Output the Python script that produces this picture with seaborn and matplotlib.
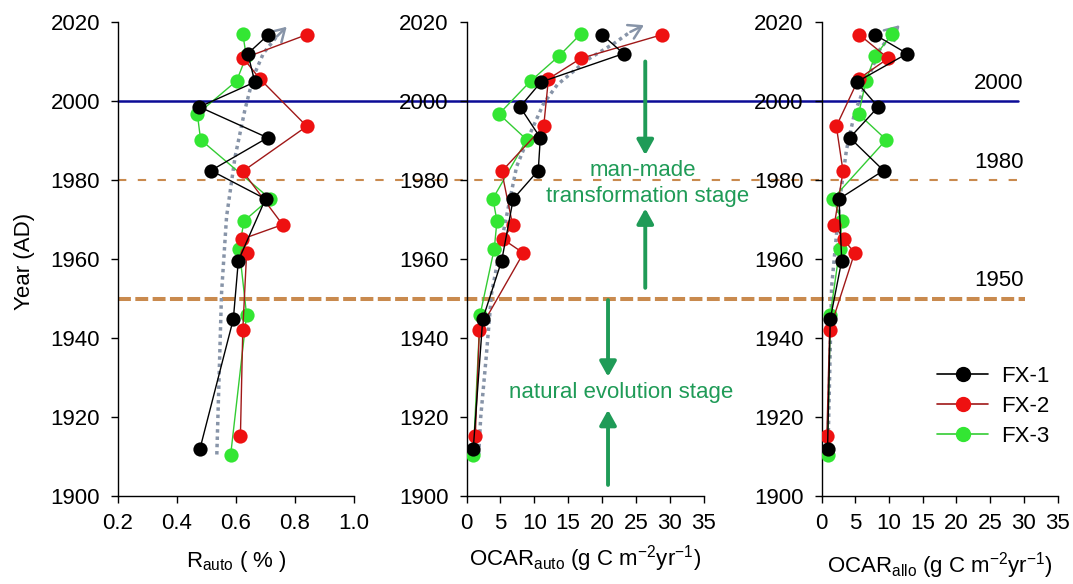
import numpy as np
import pandas as pd
import matplotlib
matplotlib.use("Agg")
import matplotlib.pyplot as plt
import seaborn as sns
from matplotlib.lines import Line2D
from matplotlib.transforms import blended_transform_factory

# ---------------- data ----------------
cores = ["FX-1", "FX-2", "FX-3"]

years_fx1 = [2016.8, 2012.0, 2004.8, 1998.5, 1990.7, 1982.4, 1975.2, 1959.6, 1944.8, 1912.0]
years_fx2 = [2016.8, 2010.8, 2005.6, 1993.6, 1982.2, 1968.7, 1965.0, 1961.5, 1942.0, 1915.3]
years_fx3 = [2017.0, 2011.3, 2005.1, 1996.7, 1990.2, 1975.3, 1969.6, 1962.6, 1945.8, 1910.5]

rauto_fx1 = [0.71, 0.64, 0.664, 0.476, 0.707, 0.515, 0.70, 0.608, 0.591, 0.478]
rauto_fx2 = [0.84, 0.625, 0.681, 0.84, 0.623, 0.758, 0.619, 0.636, 0.623, 0.615]
rauto_fx3 = [0.623, 0.635, 0.602, 0.469, 0.48, 0.715, 0.627, 0.611, 0.636, 0.582]

ocar_auto_fx1 = [20.0, 23.2, 11.0, 7.9, 10.9, 10.6, 6.9, 5.2, 2.4, 1.0]
ocar_auto_fx2 = [28.9, 16.9, 12.1, 11.4, 5.2, 6.8, 5.4, 8.4, 1.9, 1.3]
ocar_auto_fx3 = [16.9, 13.6, 9.5, 4.8, 8.9, 3.9, 4.5, 4.1, 2.0, 1.0]

ocar_allo_fx1 = [7.9, 12.7, 5.2, 8.4, 4.2, 9.2, 2.6, 3.0, 1.3, 0.9]
ocar_allo_fx2 = [5.6, 9.9, 5.5, 2.2, 3.2, 1.9, 3.3, 4.9, 1.2, 0.8]
ocar_allo_fx3 = [10.5, 7.9, 6.6, 5.5, 9.6, 1.7, 3.0, 2.7, 1.3, 0.9]

# dotted trend curves (value, year); last point is the arrow tip
trend_rauto_x = [0.535, 0.551, 0.568, 0.597, 0.63, 0.659, 0.693, 0.738, 0.772]
trend_rauto_y = [1910.5, 1951.4, 1970.7, 1985.9, 1997.7, 2006.2, 2012.1, 2016.3, 2018.8]
trend_auto_x = [1.8, 2.1, 2.9, 3.7, 5.4, 7.4, 9.4, 11.4, 13.4, 17.8, 21.8, 24.2, 26.2]
trend_auto_y = [1910.5, 1920.0, 1935.0, 1951.3, 1966.5, 1983.4, 1991.8, 1999.4, 2004.1, 2010.4, 2014.6, 2017.5, 2019.2]
trend_allo_x = [0.95, 1.5, 2.7, 3.7, 4.9, 6.4, 8.6, 10.6, 11.6]
trend_allo_y = [1910.8, 1953.0, 1974.9, 1987.6, 1996.9, 2003.6, 2012.9, 2017.5, 2019.2]

stage_years = [2000, 1980, 1950]
stage_labels = ["2000", "1980", "1950"]

xlabels = [r"R$_{\mathregular{auto}}$ ( % )",
           r"OCAR$_{\mathregular{auto}}$ (g C m$^{\mathregular{-2}}$yr$^{\mathregular{-1}}$)",
           r"OCAR$_{\mathregular{allo}}$ (g C m$^{\mathregular{-2}}$yr$^{\mathregular{-1}}$)"]
left_xticks = [0.2, 0.4, 0.6, 0.8, 1.0]
ocar_xticks = [0, 5, 10, 15, 20, 25, 30, 35]
year_ticks = [1900, 1920, 1940, 1960, 1980, 2000, 2020]

# ---------------- tidy table ----------------
rows = []
for core, yrs, r, a, b in [("FX-1", years_fx1, rauto_fx1, ocar_auto_fx1, ocar_allo_fx1),
                           ("FX-2", years_fx2, rauto_fx2, ocar_auto_fx2, ocar_allo_fx2),
                           ("FX-3", years_fx3, rauto_fx3, ocar_auto_fx3, ocar_allo_fx3)]:
    for i in range(len(yrs)):
        rows.append({"core": core, "year": yrs[i], "rauto": r[i], "ocar_auto": a[i], "ocar_allo": b[i]})
df = pd.DataFrame(rows)

# ---------------- style ----------------
sns.set_style("ticks")
plt.rcParams["font.family"] = ["Liberation Sans", "DejaVu Sans"]
plt.rcParams["mathtext.fontset"] = "custom"
plt.rcParams["mathtext.rm"] = "Liberation Sans"
plt.rcParams["mathtext.default"] = "regular"
plt.rcParams["text.color"] = "black"
plt.rcParams["axes.labelcolor"] = "black"
plt.rcParams["xtick.color"] = "black"
plt.rcParams["ytick.color"] = "black"

FS = 16
marker_col = {"FX-1": "#000000", "FX-2": "#ee1111", "FX-3": "#33e633"}
line_col = {"FX-1": "#000000", "FX-2": "#a01818", "FX-3": "#33cc33"}
zord = {"FX-1": 6, "FX-2": 5, "FX-3": 4}
trend_col = "#8794a8"
green = "#1f9b57"
blue = "#0b0b96"
tan = "#c98a4e"

W, H = 1073, 584
fig = plt.figure(figsize=(W / 100, H / 100), dpi=100)
fig.patch.set_facecolor("white")

def frac(x0, x1):
    return [x0 / W, 1 - 496 / H, (x1 - x0) / W, 474 / H]

ax1 = fig.add_axes(frac(118, 354))
ax2 = fig.add_axes(frac(466.5, 703.5))
ax3 = fig.add_axes(frac(821.5, 1057.5))
axes = [ax1, ax2, ax3]
cols = ["rauto", "ocar_auto", "ocar_allo"]
trends = [(trend_rauto_x, trend_rauto_y), (trend_auto_x, trend_auto_y), (trend_allo_x, trend_allo_y)]

for ax, col, (tx, ty), xl in zip(axes, cols, trends, xlabels):
    # dotted trend
    sns.lineplot(x=tx[:-1], y=ty[:-1], sort=False, estimator=None, color=trend_col,
                 lw=2.5, linestyle=(0, (1, 1.1)), ax=ax, zorder=3)
    ax.annotate("", xy=(tx[-1], ty[-1]), xytext=(tx[-2], ty[-2]),
                arrowprops=dict(arrowstyle="->,head_length=0.75,head_width=0.45",
                                color=trend_col, lw=1.8, shrinkA=0, shrinkB=0,
                                mutation_scale=12), zorder=3)
    for core in ["FX-3", "FX-2", "FX-1"]:
        sub = df[df["core"] == core]
        sns.lineplot(data=sub, x=col, y="year", sort=False, estimator=None,
                     color=line_col[core], lw=1.0, ax=ax, zorder=zord[core])
        sns.scatterplot(data=sub, x=col, y="year", color=marker_col[core], s=105,
                        linewidth=0, ax=ax, zorder=zord[core] + 0.5)
    ax.set_ylim(1900, 2020)
    ax.set_yticks(year_ticks)
    ax.set_ylabel("")
    ax.set_xlabel(xl, fontsize=FS, color="black")
    for s in ["top", "right"]:
        ax.spines[s].set_visible(False)
    for s in ["left", "bottom"]:
        ax.spines[s].set_linewidth(1.0)
        ax.spines[s].set_color("black")
    ax.tick_params(axis="both", direction="out", length=5, width=1.0, colors="black",
                   labelsize=FS)
    ax.tick_params(axis="x", pad=7.0)
    ax.tick_params(axis="y", pad=8.0)
    ax.set_facecolor("none")

ax1.set_xlim(0.2, 1.0)
ax1.set_xticks(left_xticks)
ax1.set_xticklabels([f"{v:.1f}" for v in left_xticks])
for ax in (ax2, ax3):
    ax.set_xlim(0, 35)
    ax.set_xticks(ocar_xticks)

ax1.set_ylabel("Year (AD)", fontsize=FS, color="black")
ax1.yaxis.set_label_coords(-0.352, 0.494)
ax1.xaxis.set_label_coords(0.5, -0.112)
ax2.xaxis.set_label_coords(0.5, -0.099)
ax3.xaxis.set_label_coords(0.5, -0.114)

# horizontal stage lines spanning the figure
tr = blended_transform_factory(fig.transFigure, ax1.transData)
ax1.add_line(Line2D([118 / W, 1018 / W], [stage_years[0]] * 2, transform=tr, color=blue,
                    lw=1.8, clip_on=False, zorder=2))
ax1.add_line(Line2D([118 / W, 1025 / W], [stage_years[1]] * 2, transform=tr, color=tan,
                    lw=1.5, ls=(0, (4, 5.5)), clip_on=False, zorder=2))
ax1.add_line(Line2D([118 / W, 1025 / W], [stage_years[2]] * 2, transform=tr, color=tan,
                    lw=2.9, ls=(0, (3.2, 1.1)), clip_on=False, zorder=2))
for yr, lab in zip(stage_years, stage_labels):
    ax1.text(999 / W, yr + 4.5, lab, transform=tr, ha="center", va="center",
             fontsize=FS, color="black", clip_on=False)

# green stage arrows and text (middle panel)
def garrow(x, y0, y1):
    ax2.annotate("", xy=(x, y1), xytext=(x, y0),
                 arrowprops=dict(arrowstyle="-|>,head_length=0.45,head_width=0.25",
                                 color=green, lw=2.8, shrinkA=0, shrinkB=0,
                                 mutation_scale=20), annotation_clip=False, zorder=8)

garrow(26.4, 2010.0, 1986.3)
garrow(26.4, 1952.7, 1972.8)
garrow(20.9, 1949.6, 1930.2)
garrow(20.9, 1902.8, 1921.8)
ax2.text(26.1, 1982.4, "man-made", color=green, fontsize=FS, ha="center", va="center",
         clip_on=False, zorder=9)
ax2.text(26.8, 1975.8, "transformation stage", color=green, fontsize=FS, ha="center",
         va="center", clip_on=False, zorder=9)
ax2.text(22.8, 1926.3, "natural evolution stage", color=green, fontsize=FS, ha="center",
         va="center", clip_on=False, zorder=9)

# legend
handles = [Line2D([0], [0], color=line_col[c], lw=1.2, marker="o", markersize=10,
                  markerfacecolor=marker_col[c], markeredgecolor=marker_col[c]) for c in cores]
fig.legend(handles, cores, loc="upper left", bbox_to_anchor=(937 / W, 1 - 366 / H),
           frameon=False, fontsize=16, handlelength=2.3, handletextpad=0.6,
           labelspacing=0.4, borderpad=0, borderaxespad=0)

fig.savefig("out.png", dpi=100, facecolor="white")
